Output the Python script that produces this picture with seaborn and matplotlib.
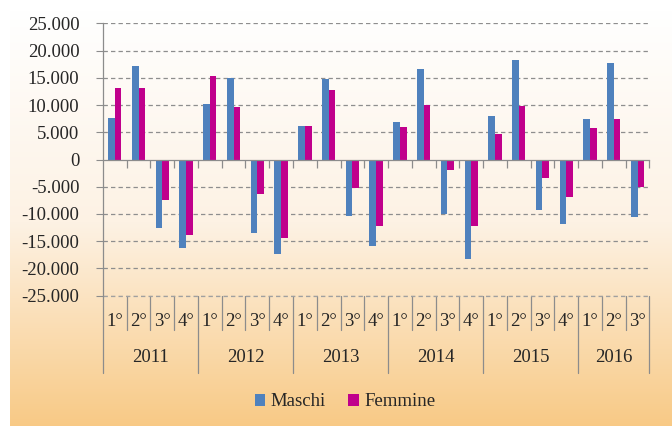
import numpy as np
import pandas as pd
import matplotlib
matplotlib.use("Agg")
import matplotlib.pyplot as plt
import seaborn as sns
from matplotlib.colors import LinearSegmentedColormap
from matplotlib.ticker import FuncFormatter, FixedLocator
from matplotlib.patches import Patch

# ---------------- data ----------------
years = ["2011", "2012", "2013", "2014", "2015", "2016"]
quarters_per_year = [4, 4, 4, 4, 4, 3]
quarter_labels = ["1°", "2°", "3°", "4°"]
maschi = [7700, 17200, -12600, -16200,
          10200, 15000, -13400, -17300,
          6100, 14700, -10300, -15900,
          6900, 16700, -10000, -18300,
          7900, 18300, -9200, -11800,
          7500, 17700, -10600]
femmine = [13200, 13200, -7500, -13800,
           15400, 9700, -6250, -14500,
           6100, 12700, -5200, -12200,
           5900, 10000, -2000, -12200,
           4700, 9900, -3400, -6800,
           5800, 7400, -5000]
series_names = ["Maschi", "Femmine"]
colors = ["#4F81BD", "#C0008C"]

# ---------------- table ----------------
slots = []
slot_q = []
for y, n in zip(years, quarters_per_year):
    for q in range(n):
        slots.append(f"{y}-{quarter_labels[q]}")
        slot_q.append(quarter_labels[q])
df = pd.DataFrame({
    "slot": slots * 2,
    "valore": maschi + femmine,
    "sesso": [series_names[0]] * len(slots) + [series_names[1]] * len(slots),
})

sns.set_theme(style="white")
plt.rcParams["font.family"] = ["Liberation Serif", "DejaVu Serif"]
FS = 13.5
TXT = "#262626"

W, H = 672, 426
fig = plt.figure(figsize=(W / 100, H / 100), dpi=100)
fig.patch.set_facecolor("white")

# gradient background (extends past the bottom/right edges)
bg = fig.add_axes([10 / W, -0.02, (W - 10) / W + 0.02, (H - 10) / H + 0.02], zorder=0)
cmap = LinearSegmentedColormap.from_list("g", ["#FFFFFF", "#FDF2E4", "#F8C882"])
grad = np.linspace(0, 1, 256).reshape(-1, 1)
bg.imshow(grad, aspect="auto", cmap=cmap, extent=[0, 1, 0, 1], origin="upper")
bg.set_axis_off()

x0, x1 = 102.9, 649.4
ytop, ybot = 23.3, 295.7
ax = fig.add_axes([x0 / W, (H - ybot) / H, (x1 - x0) / W, (ybot - ytop) / H], zorder=1)
ax.patch.set_alpha(0)

sns.barplot(data=df, x="slot", y="valore", hue="sesso", order=slots,
            hue_order=series_names, palette=colors, width=0.56,
            linewidth=0, saturation=1, ax=ax, legend=False)

ax.set_ylim(-25000, 25000)
ax.set_xlim(-0.5, len(slots) - 0.5)
ax.set_yticks(np.arange(-25000, 25001, 5000))
ax.yaxis.set_major_formatter(FuncFormatter(lambda v, p: f"{int(v):,}".replace(",", ".")))
ax.tick_params(axis="y", labelsize=FS, labelcolor=TXT, length=5, width=0.8,
               color="#8C8C8C", pad=12, direction="out", left=True)
for v in np.arange(-25000, 25001, 5000):
    if v != 0:
        ax.axhline(v, color="#8E8E8E", lw=0.9, ls=(0, (3.5, 2.5)), zorder=0)

ax.set_xlabel("")
ax.set_ylabel("")
for s in ["top", "right"]:
    ax.spines[s].set_visible(False)
ax.spines["bottom"].set_position(("data", 0))
ax.spines["bottom"].set_color("#8C8C8C")
ax.spines["left"].set_color("#8C8C8C")
ax.spines["left"].set_linewidth(0.9)
ax.spines["bottom"].set_linewidth(0.9)
ax.xaxis.set_major_locator(FixedLocator(np.arange(0.5, len(slots) - 0.5 + 0.01, 1.0)))
ax.tick_params(axis="x", labelbottom=False, length=6, width=0.9, color="#8C8C8C",
               direction="out", bottom=True)

# multi-level category axis below the plot
trans = ax.get_xaxis_transform()
def yfrac(py):
    return (H - py - (H - ybot)) / (ybot - ytop)

y_q_end = yfrac(330)
y_y_end = yfrac(373)
boundaries_year = [-0.5]
pos = -0.5
for n in quarters_per_year:
    pos += n
    boundaries_year.append(pos)
for b in np.arange(-0.5, len(slots) - 0.5 + 0.01, 1.0):
    end = y_y_end if any(abs(b - yb) < 1e-6 for yb in boundaries_year) else y_q_end
    ax.plot([b, b], [0, end], transform=trans, color="#8C8C8C", lw=0.9, clip_on=False)
ax.plot([-0.5, len(slots) - 0.5], [0, 0], transform=trans, color="#A0A0A0",
        lw=0.9, ls=(0, (3.5, 2.5)), clip_on=False)

for i, q in enumerate(slot_q):
    ax.text(i, yfrac(322), q, transform=trans, ha="center", va="center",
            fontsize=FS, color=TXT)
start = 0
for y, n in zip(years, quarters_per_year):
    ax.text(start + (n - 1) / 2, yfrac(358), y, transform=trans, ha="center",
            va="center", fontsize=FS, color=TXT)
    start += n

handles = [Patch(facecolor=c, edgecolor="none") for c in colors]
fig.legend(handles, series_names, loc="center", bbox_to_anchor=(345 / W, 1 - 402 / H),
           ncol=2, frameon=False, fontsize=FS, handlelength=0.55, handleheight=0.55,
           handletextpad=0.3, columnspacing=1.2, labelcolor=TXT)

fig.savefig("out.png", dpi=100)
